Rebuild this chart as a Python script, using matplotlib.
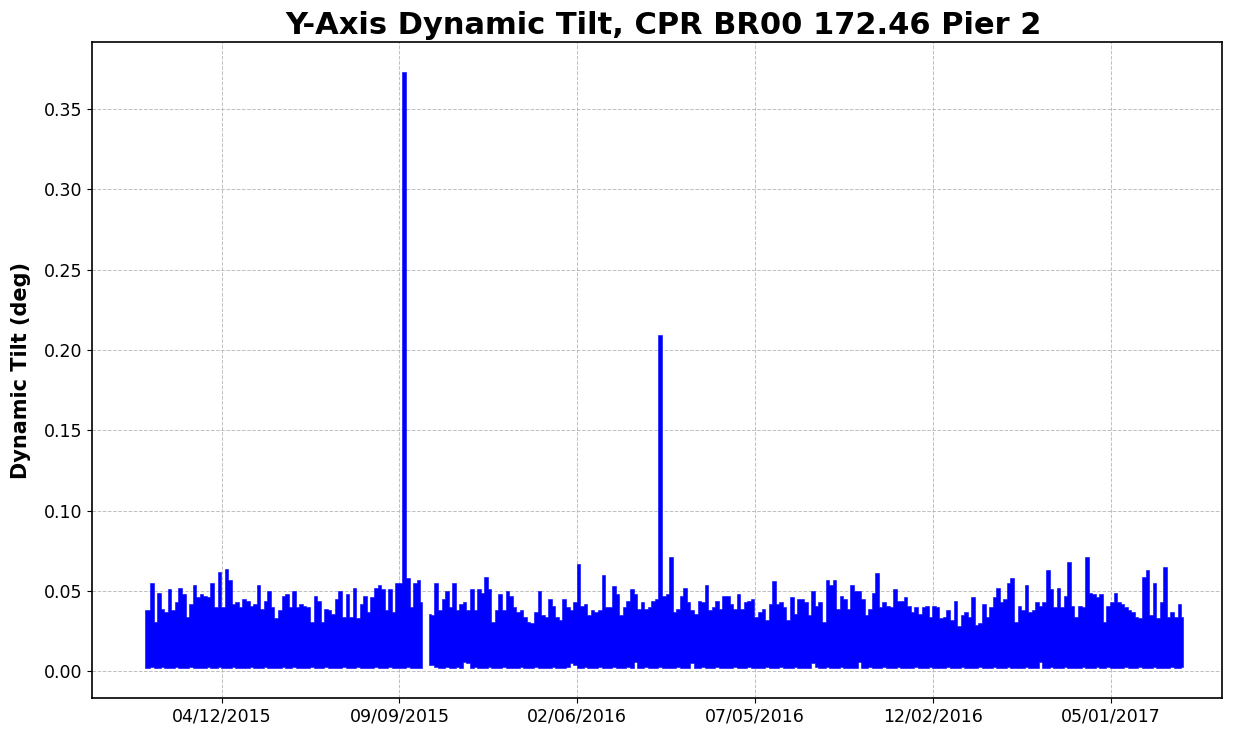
import numpy as np
import pandas as pd
import matplotlib
matplotlib.use("Agg")
import matplotlib.pyplot as plt
import matplotlib.dates as mdates

# Dynamic tilt record, summarised every 3 days as (min, max) of the raw samples
start_date = "2015-02-06"
step_days = 3

tilt_max = [
    0.038, 0.038, 0.055, 0.031, 0.049, 0.039, 0.037, 0.051, 0.038, 0.043,
    0.052, 0.048, 0.034, 0.042, 0.054, 0.046, 0.048, 0.047, 0.046, 0.055,
    0.040, 0.062, 0.040, 0.064, 0.057, 0.042, 0.043, 0.040, 0.045, 0.044,
    0.041, 0.042, 0.054, 0.039, 0.044, 0.050, 0.040, 0.033, 0.038, 0.047,
    0.048, 0.040, 0.050, 0.040, 0.042, 0.041, 0.040, 0.031, 0.047, 0.044,
    0.031, 0.039, 0.038, 0.036, 0.045, 0.050, 0.034, 0.048, 0.034, 0.052,
    0.033, 0.042, 0.047, 0.037, 0.046, 0.052, 0.054, 0.051, 0.038, 0.051,
    0.037, 0.055, 0.055, 0.373, 0.058, 0.040, 0.055, 0.057, 0.043, np.nan,
    0.036, 0.035, 0.055, 0.038, 0.045, 0.050, 0.040, 0.055, 0.038, 0.042,
    0.043, 0.038, 0.051, 0.038, 0.051, 0.049, 0.059, 0.051, 0.031, 0.038,
    0.048, 0.038, 0.050, 0.047, 0.040, 0.037, 0.038, 0.034, 0.031, 0.030,
    0.037, 0.050, 0.035, 0.034, 0.045, 0.041, 0.034, 0.032, 0.045, 0.040,
    0.038, 0.043, 0.067, 0.041, 0.042, 0.035, 0.038, 0.037, 0.038, 0.060,
    0.040, 0.040, 0.053, 0.048, 0.035, 0.040, 0.044, 0.051, 0.048, 0.039,
    0.043, 0.039, 0.040, 0.044, 0.045, 0.209, 0.047, 0.048, 0.071, 0.037,
    0.039, 0.047, 0.052, 0.043, 0.038, 0.036, 0.044, 0.043, 0.054, 0.038,
    0.040, 0.044, 0.039, 0.047, 0.047, 0.042, 0.039, 0.048, 0.039, 0.043,
    0.044, 0.045, 0.034, 0.037, 0.039, 0.032, 0.042, 0.056, 0.042, 0.043,
    0.040, 0.032, 0.046, 0.036, 0.045, 0.045, 0.043, 0.035, 0.050, 0.041,
    0.043, 0.031, 0.057, 0.054, 0.057, 0.039, 0.047, 0.045, 0.039, 0.054,
    0.050, 0.050, 0.045, 0.035, 0.039, 0.049, 0.061, 0.040, 0.043, 0.041,
    0.040, 0.051, 0.044, 0.044, 0.046, 0.041, 0.037, 0.040, 0.036, 0.040,
    0.041, 0.034, 0.041, 0.040, 0.033, 0.034, 0.038, 0.032, 0.044, 0.028,
    0.035, 0.037, 0.034, 0.046, 0.029, 0.030, 0.042, 0.034, 0.040, 0.046,
    0.052, 0.043, 0.045, 0.055, 0.058, 0.031, 0.041, 0.038, 0.054, 0.037,
    0.038, 0.043, 0.041, 0.043, 0.063, 0.051, 0.040, 0.052, 0.040, 0.047,
    0.068, 0.041, 0.034, 0.041, 0.040, 0.071, 0.049, 0.048, 0.046, 0.048,
    0.031, 0.041, 0.043, 0.049, 0.043, 0.042, 0.040, 0.038, 0.037, 0.034,
    0.033, 0.059, 0.063, 0.035, 0.055, 0.033, 0.043, 0.065, 0.034, 0.037,
    0.034, 0.042, 0.034,
]

tilt_min = [
    0.002, 0.002, 0.003, 0.002, 0.002, 0.003, 0.002, 0.002, 0.002, 0.003,
    0.002, 0.002, 0.002, 0.003, 0.002, 0.002, 0.002, 0.002, 0.003, 0.002,
    0.002, 0.003, 0.002, 0.002, 0.002, 0.003, 0.002, 0.002, 0.002, 0.002,
    0.003, 0.002, 0.002, 0.002, 0.003, 0.002, 0.002, 0.002, 0.002, 0.003,
    0.002, 0.002, 0.003, 0.002, 0.002, 0.002, 0.002, 0.003, 0.002, 0.002,
    0.002, 0.003, 0.002, 0.002, 0.002, 0.002, 0.003, 0.002, 0.002, 0.002,
    0.003, 0.002, 0.002, 0.002, 0.002, 0.003, 0.002, 0.002, 0.002, 0.003,
    0.002, 0.002, 0.002, 0.002, 0.003, 0.002, 0.002, 0.002, 0.002, np.nan,
    0.004, 0.004, 0.003, 0.002, 0.002, 0.003, 0.002, 0.002, 0.003, 0.002,
    0.006, 0.005, 0.002, 0.003, 0.002, 0.002, 0.002, 0.003, 0.002, 0.002,
    0.002, 0.003, 0.002, 0.002, 0.002, 0.002, 0.003, 0.002, 0.002, 0.002,
    0.003, 0.002, 0.002, 0.002, 0.002, 0.003, 0.002, 0.002, 0.002, 0.003,
    0.005, 0.004, 0.002, 0.002, 0.003, 0.002, 0.002, 0.002, 0.003, 0.002,
    0.002, 0.002, 0.003, 0.002, 0.002, 0.002, 0.003, 0.002, 0.006, 0.002,
    0.002, 0.003, 0.002, 0.002, 0.002, 0.003, 0.002, 0.002, 0.002, 0.002,
    0.003, 0.002, 0.002, 0.002, 0.005, 0.002, 0.002, 0.003, 0.002, 0.002,
    0.002, 0.003, 0.002, 0.002, 0.002, 0.002, 0.003, 0.002, 0.002, 0.002,
    0.003, 0.002, 0.002, 0.002, 0.002, 0.003, 0.002, 0.002, 0.002, 0.003,
    0.002, 0.002, 0.002, 0.003, 0.002, 0.002, 0.002, 0.002, 0.005, 0.003,
    0.002, 0.002, 0.003, 0.002, 0.002, 0.002, 0.003, 0.002, 0.002, 0.002,
    0.002, 0.006, 0.002, 0.002, 0.003, 0.002, 0.002, 0.002, 0.003, 0.002,
    0.002, 0.002, 0.003, 0.002, 0.002, 0.002, 0.002, 0.003, 0.002, 0.002,
    0.002, 0.003, 0.002, 0.002, 0.002, 0.002, 0.003, 0.002, 0.002, 0.002,
    0.003, 0.002, 0.002, 0.002, 0.002, 0.003, 0.002, 0.002, 0.002, 0.003,
    0.002, 0.002, 0.002, 0.003, 0.002, 0.002, 0.002, 0.002, 0.003, 0.002,
    0.002, 0.002, 0.006, 0.002, 0.002, 0.003, 0.002, 0.002, 0.002, 0.003,
    0.002, 0.002, 0.002, 0.002, 0.003, 0.002, 0.002, 0.002, 0.003, 0.002,
    0.002, 0.003, 0.002, 0.002, 0.002, 0.002, 0.003, 0.002, 0.002, 0.002,
    0.003, 0.002, 0.002, 0.002, 0.003, 0.002, 0.002, 0.002, 0.002, 0.003,
    0.002, 0.002, 0.003,
]

tick_dates = ["2015-04-12", "2015-09-09", "2016-02-06",
              "2016-07-05", "2016-12-02", "2017-05-01"]
x_range = ["2014-12-23 14:00", "2017-08-03 00:00"]

dates = pd.date_range(start_date, periods=len(tilt_max), freq=f"{step_days}D")
lo = np.array(tilt_min, dtype=float)
hi = np.array(tilt_max, dtype=float)

fig = plt.figure(figsize=(12.38, 7.31), dpi=100)
ax = fig.add_axes([0.0743, 0.0451, 0.9128, 0.8974])

ax.fill_between(dates, lo, hi, step="mid", facecolor="blue",
                edgecolor="blue", linewidth=0.4, zorder=2)

ax.set_axisbelow(True)
ax.grid(True, linestyle="--", color="#b0b0b0", linewidth=0.7, alpha=0.8)

ax.set_xlim(pd.to_datetime(x_range))
ax.set_xticks(pd.to_datetime(tick_dates))
ax.xaxis.set_major_formatter(mdates.DateFormatter("%m/%d/%Y"))
ax.tick_params(axis="both", labelsize=12.5)

ax.set_title("Y-Axis Dynamic Tilt, CPR BR00 172.46 Pier 2",
             fontsize=22, fontweight="bold", x=0.506)
ax.set_ylabel("Dynamic Tilt (deg)", fontsize=15, fontweight="bold",
              labelpad=9)

for s in ax.spines.values():
    s.set_linewidth(1.2)

fig.savefig("out.png", dpi=100)
